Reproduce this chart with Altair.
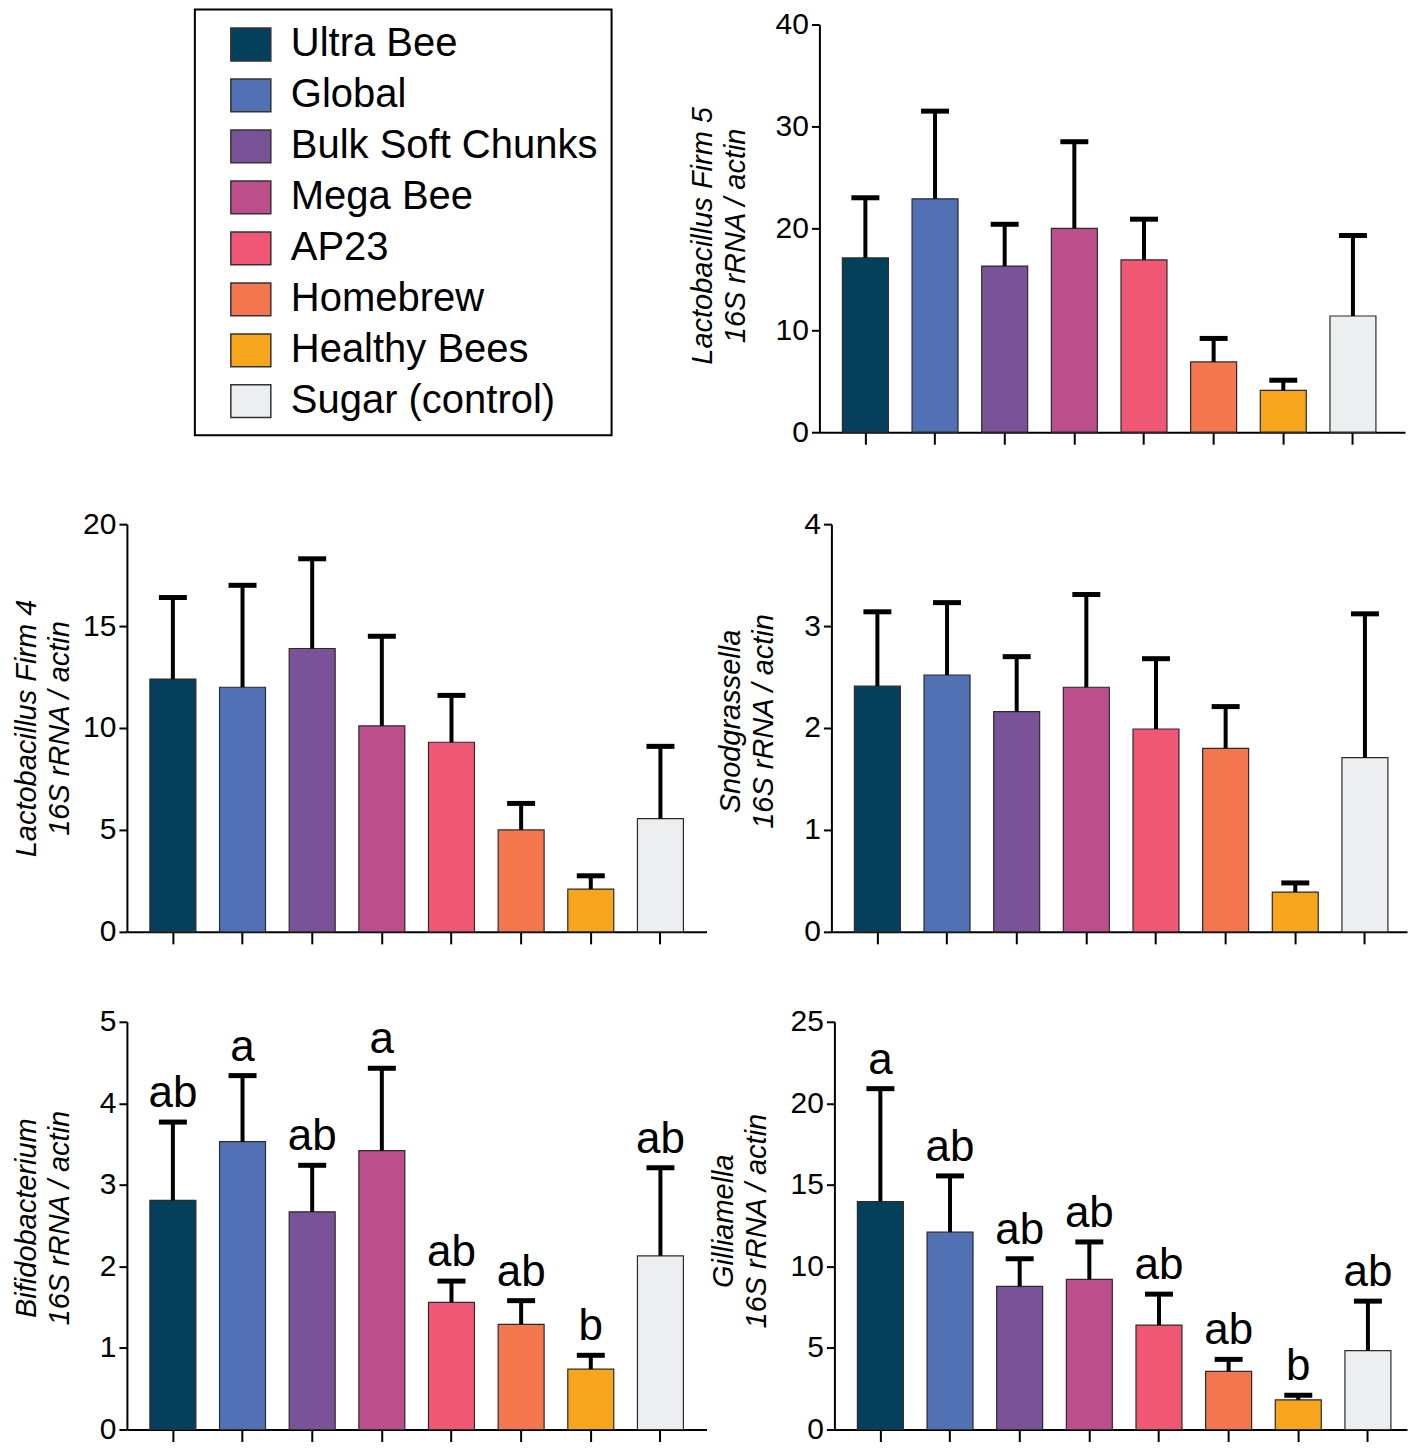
import altair as alt
import pandas as pd

FONT = "Liberation Sans"

groups = ["Ultra Bee", "Global", "Bulk Soft Chunks", "Mega Bee", "AP23",
          "Homebrew", "Healthy Bees", "Sugar (control)"]
colors = ["#04405c", "#5271b5", "#7a5297", "#bc4e8c", "#ef5774",
          "#f3764f", "#f8a51e", "#edeef0"]

firm5_mean = [17.1, 22.9, 16.3, 20.0, 16.9, 6.9, 4.1, 11.4]
firm5_top = [23.0, 31.5, 20.4, 28.5, 20.9, 9.2, 5.1, 19.3]
firm4_mean = [12.4, 12.0, 13.9, 10.1, 9.3, 5.0, 2.1, 5.55]
firm4_top = [16.4, 17.0, 18.3, 14.5, 11.6, 6.3, 2.75, 9.1]
snod_mean = [2.41, 2.52, 2.16, 2.40, 1.99, 1.80, 0.39, 1.71]
snod_top = [3.14, 3.23, 2.70, 3.31, 2.68, 2.21, 0.48, 3.12]
bifido_mean = [2.81, 3.53, 2.67, 3.42, 1.56, 1.29, 0.74, 2.13]
bifido_top = [3.77, 4.34, 3.24, 4.43, 1.82, 1.58, 0.91, 3.21]
bifido_letters = ["ab", "a", "ab", "a", "ab", "ab", "b", "ab"]
gill_mean = [13.98, 12.1, 8.78, 9.2, 6.4, 3.57, 1.82, 4.84]
gill_top = [20.9, 15.55, 10.47, 11.5, 8.3, 4.3, 2.1, 7.87]
gill_letters = ["a", "ab", "ab", "ab", "ab", "ab", "b", "ab"]

H = 408
STEP = 69.7
FIRST = 46
PI = 0.34

legend = alt.Legend(
    orient="none", legendX=68, legendY=-15, title=None,
    symbolType="M-1,-0.82H1V0.82H-1Z", symbolSize=1600,
    symbolStrokeColor="#333333", symbolStrokeWidth=1.5, symbolOpacity=1,
    labelFontSize=40, labelFont=FONT, labelColor="black", labelOffset=19,
    symbolOffset=21, padding=14, rowPadding=10, strokeColor="black",
    labelLimit=800,
)


def panel(mean, top, ymax, tstep, title, W, title_x, title_dy=0, letters=None):
    df = pd.DataFrame({"group": groups, "mean": mean, "top": top,
                       "letter": letters if letters else [""] * len(groups)})
    n = len(groups)
    total = W / STEP
    po = (total - (n - PI)) / 2
    outer = W - STEP * (n - PI)
    align = (FIRST - STEP * (1 - PI) / 2) / outer
    xenc = alt.X("group:N", sort=groups,
                 scale=alt.Scale(paddingInner=PI, paddingOuter=po, align=align),
                 axis=alt.Axis(labels=False, title=None, tickSize=12, tickWidth=2,
                               domainWidth=2, grid=False))
    yscale = alt.Scale(domain=[0, ymax], nice=False, zero=True)
    vals = list(range(0, ymax + 1, tstep))
    yaxis = alt.Axis(values=vals, format="d", tickSize=8, tickWidth=2, domainWidth=2,
                     labelFontSize=30, labelFont=FONT, labelPadding=3, grid=False,
                     title=title, titleFont=FONT, titleFontSize=29,
                     titleFontStyle="italic", titleFontWeight="normal",
                     titleAngle=270, titleX=title_x, titleY=H / 2 + title_dy,
                     titleAlign="center", titleBaseline="middle", titleLineHeight=33)
    base = alt.Chart(df).encode(x=xenc)
    bars = base.mark_bar(stroke="#2b2b2b", strokeWidth=1.2).encode(
        y=alt.Y("mean:Q", scale=yscale, axis=yaxis),
        fill=alt.Fill("group:N", scale=alt.Scale(domain=groups, range=colors),
                      legend=legend),
    )
    err = base.mark_rule(strokeWidth=4, color="black").encode(
        y=alt.Y("mean:Q", scale=yscale), y2="top:Q")
    cap = base.mark_tick(size=28, thickness=5, color="black", opacity=1).encode(
        y=alt.Y("top:Q", scale=yscale))
    layers = [bars, err, cap]
    if letters:
        txt = base.mark_text(fontSize=44, font=FONT, baseline="alphabetic", dy=-15,
                             color="black").encode(
            y=alt.Y("top:Q", scale=yscale), text="letter:N")
        layers.append(txt)
    return alt.layer(*layers).properties(width=W, height=H)


firm5 = panel(firm5_mean, firm5_top, 40, 10,
              ["Lactobacillus Firm 5", "16S rRNA / actin"], 586, -117, 7)
firm4 = panel(firm4_mean, firm4_top, 20, 5,
              ["Lactobacillus Firm 4", "16S rRNA / actin"], 580, -100)
snod = panel(snod_mean, snod_top, 4, 1,
             ["Snodgrassella", "16S rRNA / actin"], 576, -101, -7)
bifido = panel(bifido_mean, bifido_top, 5, 1,
               ["Bifidobacterium", "16S rRNA / actin"], 580, -100, -8,
               letters=bifido_letters)
gill = panel(gill_mean, gill_top, 25, 5,
             ["Gilliamella", "16S rRNA / actin"], 573, -111, -5,
             letters=gill_letters)

blank = alt.Chart(pd.DataFrame({"v": [0]})).mark_point(opacity=0, size=1).encode(
    x=alt.X("v:Q", axis=None), y=alt.Y("v:Q", axis=None)
).properties(width=540, height=H)

row1 = alt.hconcat(blank, firm5, spacing=20).resolve_scale(
    x="independent", y="independent", fill="shared")
row2 = alt.hconcat(firm4, snod, spacing=8).resolve_scale(
    x="independent", y="independent", fill="shared")
row3 = alt.hconcat(bifido, gill, spacing=1).resolve_scale(
    x="independent", y="independent", fill="shared")
lower = alt.vconcat(row2, row3, spacing=58).resolve_scale(
    x="independent", y="independent", fill="shared")

chart = alt.vconcat(row1, lower, spacing=60).resolve_scale(
    x="independent", y="independent", fill="shared"
).properties(padding={"left": 4, "top": 0, "right": 0, "bottom": 0}).configure_view(
    stroke="transparent"
).configure_axis(
    labelColor="black", domainColor="black", tickColor="black", titleColor="black"
).configure_legend(strokeWidth=2)

chart.save("out.html", embed_options={"renderer": "svg", "actions": False})
